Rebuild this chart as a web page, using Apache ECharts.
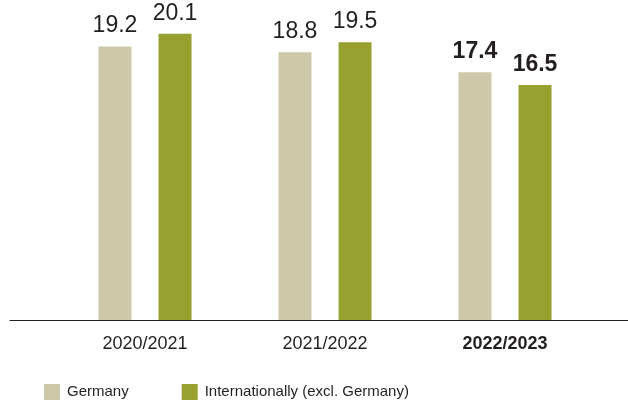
<!DOCTYPE html>
<html>
<head>
<meta charset="utf-8">
<script src="https://cdn.jsdelivr.net/npm/echarts@6/dist/echarts.min.js"></script>
<style>
  html, body { margin: 0; padding: 0; background: #fff; }
  #chart { width: 628px; height: 402px; }
</style>
</head>
<body>
<div id="chart"></div>
<script>
// Fiscal years shown on the category axis
const years = ['2020/2021', '2021/2022', '2022/2023'];
// Values per region
const germany = [19.2, 18.8, 17.4];
const international = [20.1, 19.5, 16.5];
// Series names for the legend
const seriesNames = ['Germany', 'Internationally (excl. Germany)'];

const FONT = '"Liberation Sans", Arial, Helvetica, sans-serif';
const TEXT = '#231f20';
const CURRENT = years.length - 1; // latest year is emphasised in bold

const valueLabel = {
  show: true,
  position: 'top',
  distance: 9,
  fontFamily: FONT,
  fontSize: 23,
  color: TEXT,
  formatter: p => p.value.toFixed(1),
};

function toData(values) {
  return values.map((v, i) => ({
    value: v,
    label: i === CURRENT ? { fontWeight: 'bold' } : {},
  }));
}

const chart = echarts.init(document.getElementById('chart'), null, { renderer: 'canvas' });

chart.setOption({
  animation: false,
  backgroundColor: '#ffffff',
  grid: [
    { left: 55, right: 33, top: 6.7, bottom: 82 },
    { left: 10, right: 0, top: 6.7, bottom: 82 },
  ],
  legend: {
    left: 39,
    top: 379,
    itemWidth: 16,
    itemHeight: 16,
    itemGap: 53,
    icon: 'rect',
    data: seriesNames,
    textStyle: { fontFamily: FONT, fontSize: 15, color: TEXT, padding: [0, 0, 0, 2] },
  },
  xAxis: [
    {
      type: 'category',
      gridIndex: 0,
      data: years,
      axisLine: { show: false },
      axisTick: { show: false },
      axisLabel: {
        margin: 15,
        fontFamily: FONT,
        fontSize: 18,
        color: TEXT,
        formatter: (v) => (v === years[CURRENT] ? '{b|' + v + '}' : v),
        rich: { b: { fontFamily: FONT, fontSize: 18, fontWeight: 'bold', color: TEXT } },
      },
    },
    {
      // full-width baseline
      type: 'value',
      gridIndex: 1,
      min: 0,
      max: 1,
      axisLine: { show: true, onZero: false, lineStyle: { color: TEXT, width: 1.2 } },
      axisTick: { show: false },
      axisLabel: { show: false },
      splitLine: { show: false },
    },
  ],
  yAxis: [
    { type: 'value', gridIndex: 0, min: 0, max: 22, show: false, splitLine: { show: false } },
    { type: 'value', gridIndex: 1, min: 0, max: 22, show: false, splitLine: { show: false } },
  ],
  series: [
    {
      name: seriesNames[0],
      type: 'bar',
      xAxisIndex: 0,
      yAxisIndex: 0,
      data: toData(germany),
      barWidth: 33,
      barGap: '82%',
      itemStyle: { color: '#ccc8a9' },
      label: valueLabel,
    },
    {
      name: seriesNames[1],
      type: 'bar',
      xAxisIndex: 0,
      yAxisIndex: 0,
      data: toData(international),
      barWidth: 33,
      barGap: '82%',
      itemStyle: { color: '#97a12f' },
      label: valueLabel,
    },
  ],
});
</script>
</body>
</html>
